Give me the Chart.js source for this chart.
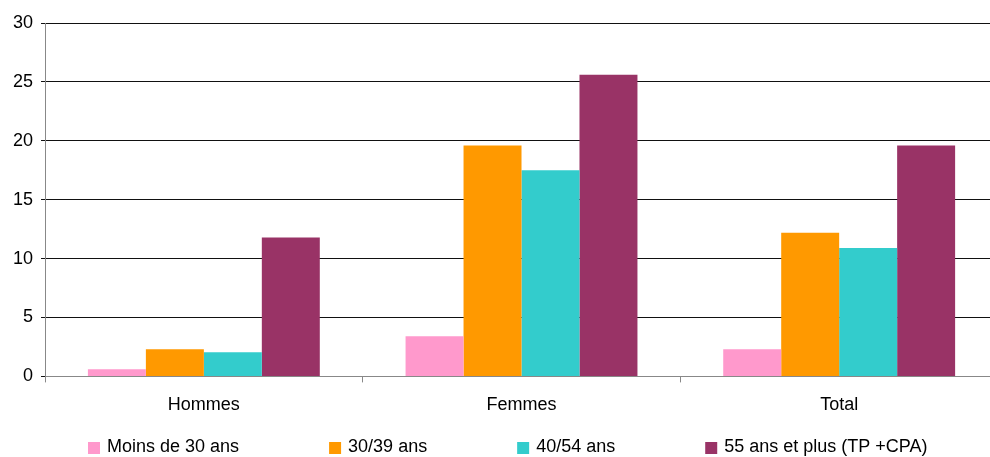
<!DOCTYPE html>
<html>
<head>
<meta charset="utf-8">
<script src="https://cdn.jsdelivr.net/npm/chart.js@4"></script>
<style>
  html, body { margin: 0; padding: 0; background: #fff; overflow: hidden; }
  #wrap { width: 998px; height: 457px; }
</style>
</head>
<body>
<div id="wrap"><canvas id="chart"></canvas></div>
<script>
// catégories et séries (en %)
const categories = ['Hommes', 'Femmes', 'Total'];
const moins30 = [0.6, 3.4, 2.3];
const ans30_39 = [2.3, 19.6, 12.2];
const ans40_54 = [2.05, 17.5, 10.9];
const ans55plus = [11.8, 25.6, 19.6];
const seriesLabels = ['Moins de 30 ans', '30/39 ans', '40/54 ans', '55 ans et plus (TP +CPA)'];
const colors = ['#ff99cc', '#ff9900', '#33cccc', '#993366'];
const yTicks = [0, 5, 10, 15, 20, 25, 30];

const font = { family: '"Liberation Sans", Arial, sans-serif', size: 18 };
const values = [moins30, ans30_39, ans40_54, ans55plus];

// légende sur une seule ligne, dessinée sous l'axe des abscisses
const bottomLegend = {
  id: 'bottomLegend',
  afterDraw(chart) {
    const ctx = chart.ctx;
    const box = 12, gapText = 7, gapItem = 90;
    const y = 447;
    ctx.save();
    ctx.font = font.size + 'px ' + font.family;
    ctx.textBaseline = 'middle';
    const items = chart.data.datasets.map(ds => ({
      text: ds.label,
      color: ds.backgroundColor,
      w: box + gapText + ctx.measureText(ds.label).width
    }));
    const total = items.reduce((s, it) => s + it.w, 0) + gapItem * (items.length - 1);
    let x = Math.round(508 - total / 2);
    items.forEach(it => {
      ctx.fillStyle = it.color;
      ctx.fillRect(x, y - box / 2 + 1, box, box);
      ctx.fillStyle = '#000';
      ctx.fillText(it.text, x + box + gapText, y);
      x += it.w + gapItem;
    });
    ctx.restore();
  }
};

new Chart(document.getElementById('chart'), {
  type: 'bar',
  data: {
    labels: categories,
    datasets: values.map((v, i) => ({
      label: seriesLabels[i],
      data: v,
      backgroundColor: colors[i],
      borderWidth: 0,
      barPercentage: 1,
      categoryPercentage: 0.73
    }))
  },
  plugins: [bottomLegend],
  options: {
    responsive: true,
    maintainAspectRatio: false,
    animation: false,
    layout: { padding: { top: 23, right: 0, left: 5, bottom: 29 } },
    plugins: {
      tooltip: { enabled: false },
      legend: { display: false }
    },
    scales: {
      x: {
        grid: { offset: true, drawOnChartArea: false, tickLength: 6, color: '#888' },
        border: { color: '#888' },
        ticks: { font: font, color: '#000', padding: 12 }
      },
      y: {
        min: 0,
        max: 30,
        afterBuildTicks: (axis) => { axis.ticks = yTicks.map(v => ({ value: v })); },
        grid: { color: '#111', tickLength: 4 },
        border: { color: '#888' },
        ticks: { font: font, color: '#000', padding: 8 }
      }
    }
  }
});
</script>
</body>
</html>
